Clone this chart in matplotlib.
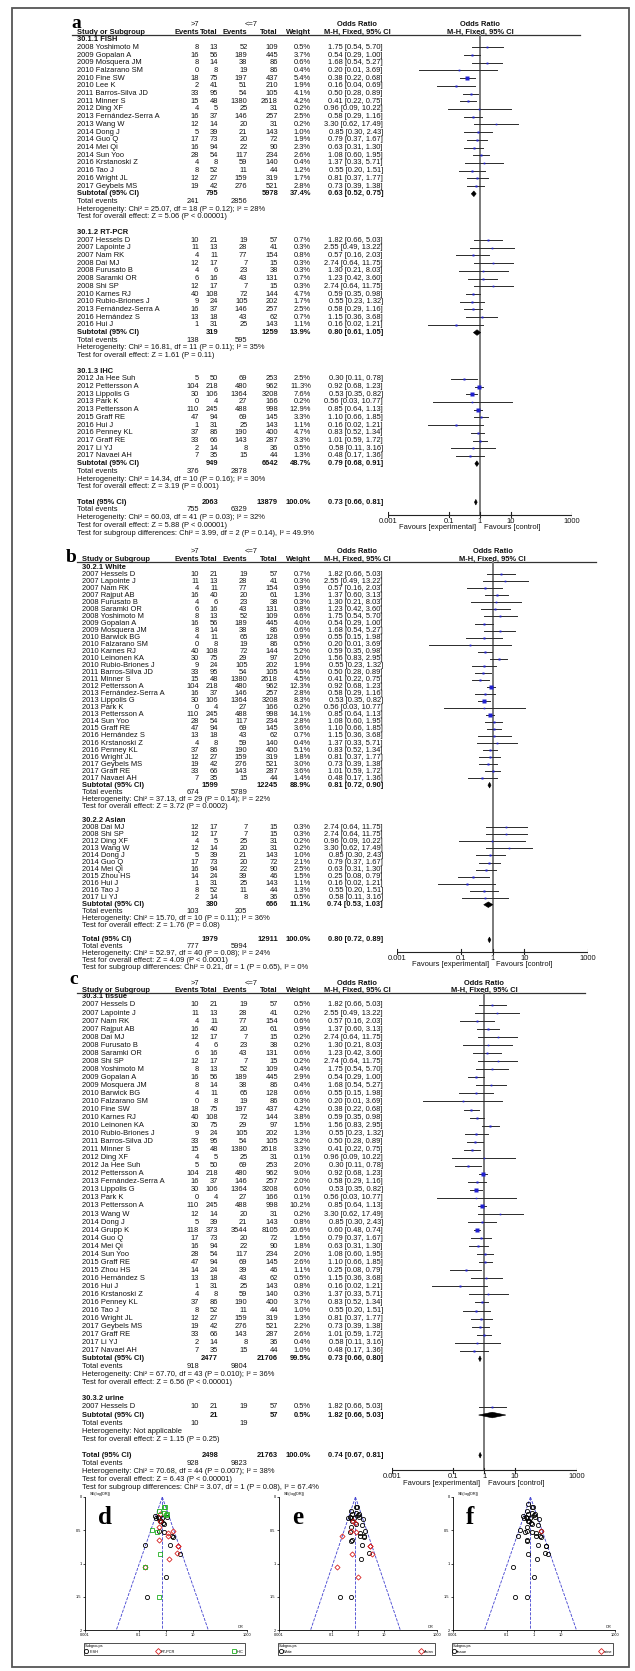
import numpy as np
import matplotlib
matplotlib.use('Agg')
import matplotlib.pyplot as plt
from matplotlib.patches import Polygon, Rectangle
from matplotlib.lines import Line2D

plt.rcParams['font.family'] = ['Liberation Sans', 'DejaVu Sans']
SERIF = ['Liberation Serif', 'DejaVu Serif']

W, H = 635, 1671
FS = 5.4

# every study: events/total for Gleason >7 and <=7, odds ratio with 95% CI
study = [
    "2007 Hessels D", "2007 Lapointe J", "2007 Nam RK", "2007 Rajput AB",
    "2008 Dai MJ", "2008 Furusato B", "2008 Saramki OR", "2008 Shi SP",
    "2008 Yoshimoto M", "2009 Gopalan A", "2009 Mosquera JM", "2010 Barwick BG",
    "2010 Falzarano SM", "2010 Fine SW", "2010 Karnes RJ", "2010 Lee K",
    "2010 Leinonen KA", "2010 Rubio-Briones J", "2011 Barros-Silva JD", "2011 Minner S",
    "2012 Ding XF", "2012 Ja Hee Suh", "2012 Pettersson A", "2013 Fernández-Serra A",
    "2013 Lippolis G", "2013 Park K", "2013 Pettersson A", "2013 Wang W",
    "2014 Dong J", "2014 Grupp K", "2014 Guo Q", "2014 Mei Qi", "2014 Sun Yoo",
    "2015 Graff RE", "2015 Zhou HS", "2016 Hernández S", "2016 Hui J",
    "2016 Krstanoski Z", "2016 Penney KL", "2016 Tao J", "2016 Wright JL",
    "2017 Geybels MS", "2017 Graff RE", "2017 Li YJ", "2017 Navaei AH",
]
ev_hi = [10, 11, 4, 16, 12, 4, 6, 12, 8, 16, 8, 4, 0, 18, 40, 2, 30, 9, 33, 15,
         4, 5, 104, 16, 30, 0, 110, 12, 5, 118, 17, 16, 28, 47, 14, 13, 1, 4, 37,
         8, 12, 19, 33, 2, 7]
n_hi = [21, 13, 11, 40, 17, 6, 16, 17, 13, 56, 14, 11, 8, 75, 108, 41, 75, 24, 95,
        48, 5, 50, 218, 37, 106, 4, 245, 14, 39, 373, 73, 94, 54, 94, 24, 18, 31, 8,
        86, 52, 27, 42, 66, 14, 35]
ev_lo = [19, 28, 77, 20, 7, 23, 43, 7, 52, 189, 38, 65, 19, 197, 72, 51, 29, 105,
         54, 1380, 25, 69, 480, 146, 1364, 27, 488, 20, 21, 3544, 20, 22, 117, 69, 39,
         43, 25, 59, 190, 11, 159, 276, 143, 8, 15]
n_lo = [57, 41, 154, 61, 15, 38, 131, 15, 109, 445, 86, 128, 86, 437, 144, 210, 97,
        202, 105, 2618, 31, 253, 962, 257, 3208, 166, 998, 31, 143, 8105, 72, 90, 234,
        145, 46, 62, 143, 140, 400, 44, 319, 521, 287, 36, 44]
odds = [1.82, 2.55, 0.57, 1.37, 2.74, 1.30, 1.23, 2.74, 1.75, 0.54, 1.68, 0.55, 0.20,
        0.38, 0.59, 0.16, 1.56, 0.55, 0.50, 0.41, 0.96, 0.30, 0.92, 0.58, 0.53, 0.56,
        0.85, 3.30, 0.85, 0.60, 0.79, 0.63, 1.08, 1.10, 0.25, 1.15, 0.16, 1.37, 0.83,
        0.55, 0.81, 0.73, 1.01, 0.58, 0.48]
ci_low = [0.66, 0.49, 0.16, 0.60, 0.64, 0.21, 0.42, 0.64, 0.54, 0.29, 0.54, 0.15, 0.01,
          0.22, 0.35, 0.04, 0.83, 0.23, 0.28, 0.22, 0.09, 0.11, 0.68, 0.29, 0.35, 0.03,
          0.64, 0.62, 0.30, 0.48, 0.37, 0.31, 0.60, 0.66, 0.08, 0.36, 0.02, 0.33, 0.52,
          0.20, 0.37, 0.39, 0.59, 0.11, 0.17]
ci_high = [5.03, 13.22, 2.03, 3.13, 11.75, 8.03, 3.60, 11.75, 5.70, 1.00, 5.27, 1.98,
           3.69, 0.68, 0.98, 0.69, 2.95, 1.32, 0.89, 0.75, 10.22, 0.78, 1.23, 1.16, 0.82,
           10.77, 1.13, 17.49, 2.43, 0.74, 1.67, 1.30, 1.95, 1.85, 0.79, 3.68, 1.21,
           5.71, 1.34, 1.51, 1.77, 1.38, 1.72, 3.16, 1.36]

# (a) detection method
fish_rows = ["2008 Yoshimoto M", "2009 Gopalan A", "2009 Mosquera JM", "2010 Falzarano SM",
             "2010 Fine SW", "2010 Lee K", "2011 Barros-Silva JD", "2011 Minner S",
             "2012 Ding XF", "2013 Fernández-Serra A", "2013 Wang W", "2014 Dong J",
             "2014 Guo Q", "2014 Mei Qi", "2014 Sun Yoo", "2016 Krstanoski Z", "2016 Tao J",
             "2016 Wright JL", "2017 Geybels MS"]
fish_wt = [0.5, 3.7, 0.6, 0.4, 5.4, 1.9, 4.1, 4.2, 0.2, 2.5, 0.2, 1.0, 1.9, 2.3, 2.6,
           0.4, 1.2, 1.7, 2.8]
fish_sub = [795, 5978, 37.4, 0.63, 0.52, 0.75]
fish_events = [241, 2856]
fish_het = [25.07, 18, "0.12", 28]
fish_z = [5.06, "< 0.00001"]

rtpcr_rows = ["2007 Hessels D", "2007 Lapointe J", "2007 Nam RK", "2008 Dai MJ",
              "2008 Furusato B", "2008 Saramki OR", "2008 Shi SP", "2010 Karnes RJ",
              "2010 Rubio-Briones J", "2013 Fernández-Serra A", "2016 Hernández S", "2016 Hui J"]
rtpcr_wt = [0.7, 0.3, 0.8, 0.3, 0.3, 0.7, 0.3, 4.7, 1.7, 2.5, 0.7, 1.1]
rtpcr_sub = [319, 1259, 13.9, 0.80, 0.61, 1.05]
rtpcr_events = [138, 595]
rtpcr_het = [16.81, 11, "0.11", 35]
rtpcr_z = [1.61, "= 0.11"]

ihc_rows = ["2012 Ja Hee Suh", "2012 Pettersson A", "2013 Lippolis G", "2013 Park K",
            "2013 Pettersson A", "2015 Graff RE", "2016 Hui J", "2016 Penney KL",
            "2017 Graff RE", "2017 Li YJ", "2017 Navaei AH"]
ihc_wt = [2.5, 11.3, 7.6, 0.2, 12.9, 3.3, 1.1, 4.7, 3.3, 0.5, 1.3]
ihc_sub = [949, 6642, 48.7, 0.79, 0.68, 0.91]
ihc_events = [376, 2878]
ihc_het = [14.34, 10, "0.16", 30]
ihc_z = [3.19, "= 0.001"]

total_a = [2063, 13879, 100.0, 0.73, 0.66, 0.81]
total_a_events = [755, 6329]
total_a_het = [60.03, 41, "0.03", 32]
total_a_z = [5.88, "< 0.00001"]
total_a_diff = [3.99, 2, "0.14", "49.9"]

# (b) ethnicity
white_rows = ["2007 Hessels D", "2007 Lapointe J", "2007 Nam RK", "2007 Rajput AB",
              "2008 Furusato B", "2008 Saramki OR", "2008 Yoshimoto M", "2009 Gopalan A",
              "2009 Mosquera JM", "2010 Barwick BG", "2010 Falzarano SM", "2010 Karnes RJ",
              "2010 Leinonen KA", "2010 Rubio-Briones J", "2011 Barros-Silva JD",
              "2011 Minner S", "2012 Pettersson A", "2013 Fernández-Serra A",
              "2013 Lippolis G", "2013 Park K", "2013 Pettersson A", "2014 Sun Yoo",
              "2015 Graff RE", "2016 Hernández S", "2016 Krstanoski Z", "2016 Penney KL",
              "2016 Wright JL", "2017 Geybels MS", "2017 Graff RE", "2017 Navaei AH"]
white_wt = [0.7, 0.3, 0.9, 1.3, 0.3, 0.8, 0.6, 4.0, 0.6, 0.9, 0.5, 5.2, 2.0, 1.9, 4.5,
            4.5, 12.3, 2.8, 8.3, 0.2, 14.1, 2.8, 3.6, 0.7, 0.4, 5.1, 1.8, 3.0, 3.6, 1.4]
white_sub = [1599, 12245, 88.9, 0.81, 0.72, 0.90]
white_events = [674, 5789]
white_het = [37.13, 29, "0.14", 22]
white_z = [3.72, "= 0.0002"]

asian_rows = ["2008 Dai MJ", "2008 Shi SP", "2012 Ding XF", "2013 Wang W", "2014 Dong J",
              "2014 Guo Q", "2014 Mei Qi", "2015 Zhou HS", "2016 Hui J", "2016 Tao J",
              "2017 Li YJ"]
asian_wt = [0.3, 0.3, 0.2, 0.2, 1.0, 2.1, 2.5, 1.5, 1.1, 1.3, 0.5]
asian_sub = [380, 666, 11.1, 0.74, 0.53, 1.03]
asian_events = [103, 205]
asian_het = [15.70, 10, "0.11", 36]
asian_z = [1.76, "= 0.08"]

total_b = [1979, 12911, 100.0, 0.80, 0.72, 0.89]
total_b_events = [777, 5994]
total_b_het = [52.97, 40, "0.08", 24]
total_b_z = [4.09, "< 0.0001"]
total_b_diff = [0.21, 1, "0.65", "0"]

# (c) specimen
tissue_rows = ["2007 Hessels D", "2007 Lapointe J", "2007 Nam RK", "2007 Rajput AB",
               "2008 Dai MJ", "2008 Furusato B", "2008 Saramki OR", "2008 Shi SP",
               "2008 Yoshimoto M", "2009 Gopalan A", "2009 Mosquera JM", "2010 Barwick BG",
               "2010 Falzarano SM", "2010 Fine SW", "2010 Karnes RJ", "2010 Leinonen KA",
               "2010 Rubio-Briones J", "2011 Barros-Silva JD", "2011 Minner S",
               "2012 Ding XF", "2012 Ja Hee Suh", "2012 Pettersson A",
               "2013 Fernández-Serra A", "2013 Lippolis G", "2013 Park K",
               "2013 Pettersson A", "2013 Wang W", "2014 Dong J", "2014 Grupp K",
               "2014 Guo Q", "2014 Mei Qi", "2014 Sun Yoo", "2015 Graff RE",
               "2015 Zhou HS", "2016 Hernández S", "2016 Hui J", "2016 Krstanoski Z",
               "2016 Penney KL", "2016 Tao J", "2016 Wright JL", "2017 Geybels MS",
               "2017 Graff RE", "2017 Li YJ", "2017 Navaei AH"]
tissue_wt = [0.5, 0.2, 0.6, 0.9, 0.2, 0.2, 0.6, 0.2, 0.4, 2.9, 0.4, 0.6, 0.3, 4.2, 3.8,
             1.5, 1.3, 3.2, 3.3, 0.1, 2.0, 9.0, 2.0, 6.0, 0.1, 10.2, 0.2, 0.8, 20.6, 1.5,
             1.8, 2.0, 2.6, 1.1, 0.5, 0.8, 0.3, 3.7, 1.0, 1.3, 2.2, 2.6, 0.4, 1.0]
tissue_sub = [2477, 21706, 99.5, 0.73, 0.66, 0.80]
tissue_events = [918, 9804]
tissue_het = [67.70, 43, "0.010", 36]
tissue_z = [6.56, "< 0.00001"]

urine_rows = ["2007 Hessels D"]
urine_wt = [0.5]
urine_sub = [21, 57, 0.5, 1.82, 0.66, 5.03]
urine_events = [10, 19]
urine_het = None
urine_z = [1.15, "= 0.25"]

total_c = [2498, 21763, 100.0, 0.74, 0.67, 0.81]
total_c_events = [928, 9823]
total_c_het = [70.68, 44, "0.007", 38]
total_c_z = [6.43, "< 0.00001"]
total_c_diff = [3.07, 1, "0.08", "67.4"]

idx = {name: i for i, name in enumerate(study)}

COLS = [199, 218, 247.5, 278, 311]   # right edges of the numeric columns
OR_X = 383


def or_text(o, lo, hi):
    return f"{o:.2f} [{lo:.2f}, {hi:.2f}]"


def het_text(h):
    if h is None:
        return "Heterogeneity: Not applicable"
    return f"Heterogeneity: Chi\u00b2 = {h[0]:.2f}, df = {h[1]} (P = {h[2]}); I\u00b2 = {h[3]}%"


fig = plt.figure(figsize=(W / 100, H / 100), dpi=100)
page = fig.add_axes([0, 0, 1, 1])
page.set_xlim(0, W)
page.set_ylim(H, 0)
page.axis('off')
page.add_patch(Rectangle((12, 8), 617, 1659, fill=False, ec='#555555', lw=1.3))


def txt(x, y, s, ha='left', bold=False, size=FS):
    page.text(x, y, s, ha=ha, va='center', fontsize=size,
              fontweight='bold' if bold else 'normal', color='#111111')


def diamond(ax, o, lo, hi, y, h=2.8):
    ax.add_patch(Polygon([(lo, y), (o, y - h), (hi, y), (o, y + h)], closed=True,
                         fc='black', ec='black', lw=0.4, zorder=4))


def draw_forest(lay, groups, tot, tot_events, tot_het, tot_z, diff):
    nx = lay['name_x']
    x0, x1 = lay['plot']
    one_x = (x0 + x1) / 2
    fax = fig.add_axes([x0 / W, 0, (x1 - x0) / W, 1])
    fax.set_xscale('log')
    fax.set_xlim(1e-3, 1e3)
    fax.set_ylim(H, 0)
    fax.axis('off')

    h1, h2 = lay['heads']
    page.text(lay['letter_xy'][0], lay['letter_xy'][1], lay['letter'], family=SERIF,
              fontsize=14, fontweight='bold', ha='left', va='baseline')
    txt(195, h1, '>7', ha='center')
    txt(251, h1, '<=7', ha='center')
    txt(357, h1, 'Odds Ratio', ha='center', bold=True)
    txt(one_x, h1, 'Odds Ratio', ha='center', bold=True)
    txt(nx, h2, 'Study or Subgroup', bold=True)
    for x, s in zip(COLS, ['Events', 'Total', 'Events', 'Total', 'Weight']):
        txt(x, h2, s, ha='right', bold=True)
    txt(357, h2, 'M-H, Fixed, 95% CI', ha='center', bold=True)
    txt(one_x, h2, 'M-H, Fixed, 95% CI', ha='center', bold=True)
    line_y = h2 + 2.8
    page.plot([nx - 5, x1 + 8], [line_y, line_y], color='#333333', lw=0.9)

    dy = lay['dy']
    y = lay['first'] - dy
    for label, rows, wts, sub, events, het, z in groups:
        txt(nx, y, label, bold=True)
        y += dy
        for name, w in zip(rows, wts):
            i = idx[name]
            txt(nx, y, name)
            for x, v in zip(COLS[:4], [ev_hi[i], n_hi[i], ev_lo[i], n_lo[i]]):
                txt(x, y, str(v), ha='right')
            txt(COLS[4], y, f"{w:.1f}%", ha='right')
            txt(OR_X, y, or_text(odds[i], ci_low[i], ci_high[i]), ha='right')
            fax.plot([ci_low[i], ci_high[i]], [y, y], color='#2a2a2a', lw=0.7, zorder=3)
            fax.plot(odds[i], y, 's', color='#2020d0', mec='none',
                     ms=0.9 + 0.55 * np.sqrt(w), zorder=5)
            y += dy
        txt(nx, y, 'Subtotal (95% CI)', bold=True)
        txt(COLS[1], y, str(sub[0]), ha='right', bold=True)
        txt(COLS[3], y, str(sub[1]), ha='right', bold=True)
        txt(COLS[4], y, f"{sub[2]:.1f}%", ha='right', bold=True)
        txt(OR_X, y, or_text(*sub[3:]), ha='right', bold=True)
        diamond(fax, sub[3], sub[4], sub[5], y)
        y += dy
        txt(nx, y, 'Total events')
        txt(COLS[0], y, str(events[0]), ha='right')
        txt(COLS[2], y, str(events[1]), ha='right')
        y += dy
        txt(nx, y, het_text(het))
        y += dy
        txt(nx, y, f"Test for overall effect: Z = {z[0]:.2f} (P {z[1]})")
        y += 2 * dy

    total_y = y
    txt(nx, y, 'Total (95% CI)', bold=True)
    txt(COLS[1], y, str(tot[0]), ha='right', bold=True)
    txt(COLS[3], y, str(tot[1]), ha='right', bold=True)
    txt(COLS[4], y, f"{tot[2]:.1f}%", ha='right', bold=True)
    txt(OR_X, y, or_text(*tot[3:]), ha='right', bold=True)
    diamond(fax, tot[3], tot[4], tot[5], y)
    y += dy
    txt(nx, y, 'Total events')
    txt(COLS[0], y, str(tot_events[0]), ha='right')
    txt(COLS[2], y, str(tot_events[1]), ha='right')
    y += dy
    txt(nx, y, het_text(tot_het))
    y += dy
    txt(nx, y, f"Test for overall effect: Z = {tot_z[0]:.2f} (P {tot_z[1]})")
    y += dy
    txt(nx, y, f"Test for subgroup differences: Chi\u00b2 = {diff[0]:.2f}, df = {diff[1]} "
               f"(P = {diff[2]}), I\u00b2 = {diff[3]}%")

    # effect axis
    ay = total_y + lay['axis_gap']
    fax.plot([1, 1], [line_y, ay], color='#7a7a7a', lw=1.4, zorder=1)
    fax.plot([1e-3, 1e3], [ay, ay], color='#222222', lw=0.8)
    for t, s in zip([1e-3, 1e-1, 1, 10, 1e3], ['0.001', '0.1', '1', '10', '1000']):
        fax.plot([t, t], [ay - 2.5, ay + 2.5], color='#222222', lw=0.8)
        fax.text(t, ay + 6.5, s, ha='center', va='center', fontsize=FS, color='#111111')
    fax.text(10 ** -0.12, ay + 13, 'Favours [experimental]', ha='right', va='center',
             fontsize=FS, color='#111111')
    fax.text(10 ** 0.12, ay + 13, 'Favours [control]', ha='left', va='center',
             fontsize=FS, color='#111111')


draw_forest(
    dict(letter='a', letter_xy=(71, 27.5), heads=(25, 32.3), first=47.3, dy=7.71,
         name_x=77, plot=(388, 572), axis_gap=12.6),
    [("30.1.1 FISH", fish_rows, fish_wt, fish_sub, fish_events, fish_het, fish_z),
     ("30.1.2 RT-PCR", rtpcr_rows, rtpcr_wt, rtpcr_sub, rtpcr_events, rtpcr_het, rtpcr_z),
     ("30.1.3 IHC", ihc_rows, ihc_wt, ihc_sub, ihc_events, ihc_het, ihc_z)],
    total_a, total_a_events, total_a_het, total_a_z, total_a_diff)

draw_forest(
    dict(letter='b', letter_xy=(66, 562), heads=(551.7, 559.5), first=574.3, dy=7.03,
         name_x=81.7, plot=(397, 588), axis_gap=12),
    [("30.2.1 White", white_rows, white_wt, white_sub, white_events, white_het, white_z),
     ("30.2.2 Asian", asian_rows, asian_wt, asian_sub, asian_events, asian_het, asian_z)],
    total_b, total_b_events, total_b_het, total_b_z, total_b_diff)

draw_forest(
    dict(letter='c', letter_xy=(69, 984), heads=(983.3, 990), first=1005, dy=8.04,
         name_x=81.7, plot=(391.7, 576.7), axis_gap=15),
    [("30.3.1 tissue", tissue_rows, tissue_wt, tissue_sub, tissue_events, tissue_het, tissue_z),
     ("30.3.2 urine", urine_rows, urine_wt, urine_sub, urine_events, urine_het, urine_z)],
    total_c, total_c_events, total_c_het, total_c_z, total_c_diff)


# funnel plots
STYLES = [('o', 'black', 'white'), ('D', '#d62020', 'white'), ('s', '#20b020', 'white')]


def draw_funnel(box, letter, pooled, groups):
    x0, y0, x1, y1 = box
    ax = fig.add_axes([x0 / W, 1 - y1 / H, (x1 - x0) / W, (y1 - y0) / H])
    ax.set_xscale('log')
    ax.set_xlim(1e-3, 1e3)
    ax.set_ylim(2, 0)
    for s in ['top', 'right']:
        ax.spines[s].set_visible(False)
    for s in ['left', 'bottom']:
        ax.spines[s].set_linewidth(0.6)
    ax.set_xticks([1e-3, 1e-1, 1, 10, 1e3])
    ax.set_xticklabels(['0.001', '0.1', '1', '10', '1000'])
    ax.set_yticks([0, 0.5, 1, 1.5, 2])
    ax.set_yticklabels(['0', '0.5', '1', '1.5', '2'])
    ax.minorticks_off()
    ax.tick_params(labelsize=2.8, length=1.5, width=0.5, pad=1)
    se = np.linspace(0, 2, 2)
    ax.plot(pooled * np.exp(-1.96 * se), se, ls='--', color='#4040d0', lw=0.6)
    ax.plot(pooled * np.exp(1.96 * se), se, ls='--', color='#4040d0', lw=0.6)
    ax.plot([pooled, pooled], [0, 2], ls='--', color='#4040d0', lw=0.6)
    handles = []
    for (label, rows), (mk, col, fc) in zip(groups, STYLES):
        ii = [idx[r] for r in rows]
        o = np.array([odds[i] for i in ii])
        s = (np.log([ci_high[i] for i in ii]) - np.log([ci_low[i] for i in ii])) / 3.92
        ax.plot(o, s, mk, mfc='none', mec=col, ms=3.0 if mk != 'D' else 2.6, mew=0.6, ls='none')
        handles.append(Line2D([], [], marker=mk, mfc='none', mec=col, ms=3, mew=0.6,
                              ls='none', label=label))
    ax.text(0.03, 1.01, 'SE(log[OR])', transform=ax.transAxes, fontsize=2.8, va='bottom')
    ax.text(0.98, 0.01, 'OR', transform=ax.transAxes, fontsize=2.8, va='bottom', ha='right')
    ax.text(0.08, 0.93, letter, transform=ax.transAxes, family=SERIF, fontsize=18,
            fontweight='bold', va='top')
    leg = ax.legend(handles=handles, loc='upper left', bbox_to_anchor=(-0.02, -0.09, 1.02, 0.01),
                    mode='expand', ncol=3, title='Subgroups', fontsize=2.8, title_fontsize=2.8,
                    frameon=True, fancybox=False, edgecolor='black', borderpad=0.3,
                    handlelength=0.8, handletextpad=0.3, alignment='left')
    leg.get_frame().set_linewidth(0.6)


draw_funnel((85, 1497, 247, 1630), 'd', 0.73,
            [('FISH', fish_rows), ('RT-PCR', rtpcr_rows), ('IHC', ihc_rows)])
draw_funnel((279, 1497, 437, 1630), 'e', 0.80,
            [('White', white_rows), ('Asian', asian_rows)])
draw_funnel((453, 1497, 615, 1630), 'f', 0.74,
            [('tissue', tissue_rows), ('urine', urine_rows)])

fig.savefig('out.png', dpi=100)
